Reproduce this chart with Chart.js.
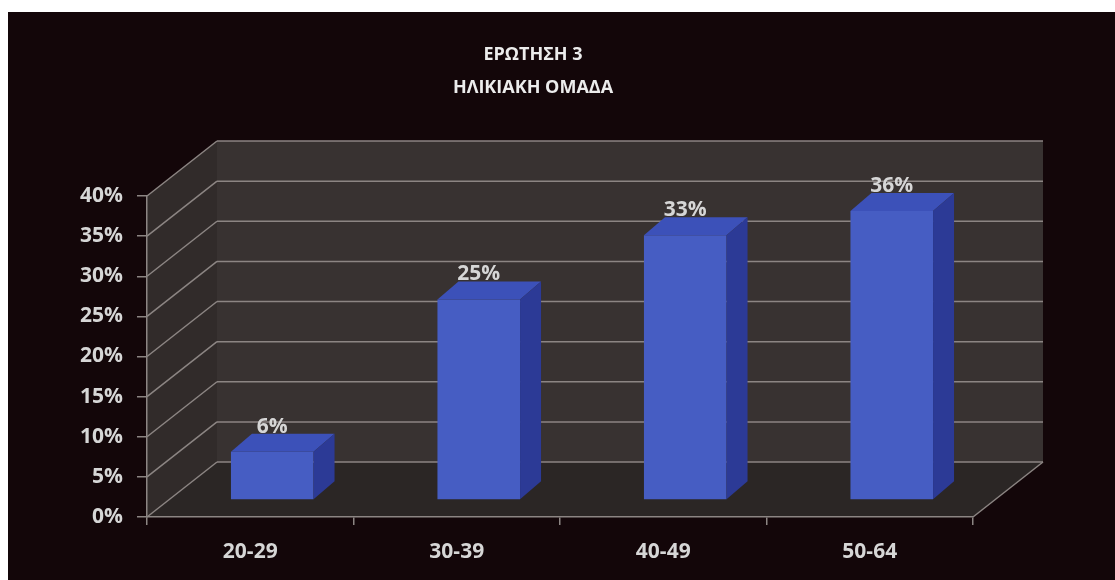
<!DOCTYPE html>
<html>
<head>
<meta charset="utf-8">
<script src="https://cdn.jsdelivr.net/npm/chart.js@4.4.0/dist/chart.umd.min.js"></script>
<style>
  html, body { margin: 0; padding: 0; background: #fff; }
  #wrap { width: 1115px; height: 580px; position: relative; }
</style>
</head>
<body>
<div id="wrap"><canvas id="myChart"></canvas></div>
<script>
const ageGroups = ['20-29', '30-39', '40-49', '50-64'];
const percentValues = [6, 25, 33, 36];
const titleLines = ['ΕΡΩΤΗΣΗ 3', 'ΗΛΙΚΙΑΚΗ ΟΜΑΔΑ'];
const yMax = 40;
const yStep = 5;

// fake 3d: how far the back wall sits behind the axes, and where the bars sit
const depth = { x: 70, y: -55 };
const barShift = { x: 22, y: -17 };
const barDepth = { x: 21, y: -18 };

const gridColor = '#8c8583';
const textColor = '#d6d6d6';
const fontFamily = "'Open Sans', 'DejaVu Sans', sans-serif";

const poly = (ctx, pts, fill) => {
    ctx.beginPath();
    ctx.moveTo(pts[0][0], pts[0][1]);
    for (let i = 1; i < pts.length; i++) ctx.lineTo(pts[i][0], pts[i][1]);
    ctx.closePath();
    ctx.fillStyle = fill;
    ctx.fill();
};

const line = (ctx, x1, y1, x2, y2) => {
    ctx.beginPath();
    ctx.moveTo(x1, y1);
    ctx.lineTo(x2, y2);
    ctx.stroke();
};

const roomPlugin = {
    id: 'room',
    beforeDraw(chart) {
        const ctx = chart.ctx;
        const { left, right, top, bottom } = chart.chartArea;
        const yScale = chart.scales.y;
        ctx.save();
        ctx.fillStyle = '#130609';
        ctx.fillRect(8, 12, chart.width - 8, chart.height - 12);

        // title (centred on the whole picture, not on the plot)
        ctx.font = 'bold 18px ' + fontFamily;
        ctx.fillStyle = '#ececec';
        ctx.textAlign = 'center';
        ctx.textBaseline = 'middle';
        titleLines.forEach((t, i) => ctx.fillText(t, 533, 55 + i * 33));

        // back wall, side wall, floor
        poly(ctx, [[left + depth.x, top + depth.y], [right + depth.x, top + depth.y],
                   [right + depth.x, bottom + depth.y], [left + depth.x, bottom + depth.y]], '#383231');
        poly(ctx, [[left, top], [left + depth.x, top + depth.y],
                   [left + depth.x, bottom + depth.y], [left, bottom]], '#312b2a');
        poly(ctx, [[left, bottom], [right, bottom],
                   [right + depth.x, bottom + depth.y], [left + depth.x, bottom + depth.y]], '#2b2625');

        ctx.strokeStyle = gridColor;
        ctx.lineWidth = 1.5;
        for (let v = 0; v <= yMax; v += yStep) {
            const yy = yScale.getPixelForValue(v);
            line(ctx, left, yy, left + depth.x, yy + depth.y);
            line(ctx, left + depth.x, yy + depth.y, right + depth.x, yy + depth.y);
        }
        line(ctx, right, bottom, right + depth.x, bottom + depth.y);
        ctx.restore();
    },
    beforeDatasetsDraw(chart) {
        chart.ctx.save();
        chart.ctx.translate(barShift.x, barShift.y);
    },
    afterDatasetsDraw(chart) {
        const ctx = chart.ctx;
        const bars = chart.getDatasetMeta(0).data;
        bars.forEach(bar => {
            const { x, y, base, width } = bar.getProps(['x', 'y', 'base', 'width'], true);
            const xl = x - width / 2;
            const xr = x + width / 2;
            poly(ctx, [[xl, y], [xr, y], [xr + barDepth.x, y + barDepth.y], [xl + barDepth.x, y + barDepth.y]], '#3c51b9');
            poly(ctx, [[xr, y], [xr + barDepth.x, y + barDepth.y], [xr + barDepth.x, base + barDepth.y], [xr, base]], '#2c3a96');
        });
        ctx.restore();

        // value labels
        ctx.save();
        ctx.font = 'bold 21px ' + fontFamily;
        ctx.fillStyle = textColor;
        ctx.textAlign = 'center';
        ctx.textBaseline = 'middle';
        bars.forEach((bar, i) => {
            const { x, y } = bar.getProps(['x', 'y'], true);
            ctx.fillText(percentValues[i] + '%', x + barShift.x, y + barShift.y - 25);
        });
        ctx.restore();
    }
};

const ctx = document.getElementById('myChart').getContext('2d');

const myChart = new Chart(ctx, {
    type: 'bar',
    data: {
        labels: ageGroups,
        datasets: [{
            data: percentValues,
            backgroundColor: '#465dc3',
            borderWidth: 0,
            categoryPercentage: 1,
            barPercentage: 0.4,
            clip: false
        }]
    },
    options: {
        responsive: true,
        maintainAspectRatio: false,
        animation: false,
        layout: { padding: { left: 0, right: 142, top: 196, bottom: 0 } },
        plugins: {
            legend: { display: false },
            tooltip: { enabled: false },
            title: { display: false }
        },
        scales: {
            x: {
                afterFit: (scale) => { scale.height = 63; },
                grid: { display: true, drawOnChartArea: false, drawTicks: true, tickLength: 8, color: gridColor, lineWidth: 1.5, offset: true },
                border: { display: true, color: gridColor, width: 1.5 },
                ticks: { color: textColor, padding: 14, font: { family: fontFamily, weight: 'bold', size: 21 } }
            },
            y: {
                min: 0,
                max: yMax,
                afterFit: (scale) => { scale.width = 147; },
                grid: { drawOnChartArea: false, drawTicks: true, tickLength: 10, color: gridColor, lineWidth: 1.5 },
                border: { display: true, color: gridColor, width: 1.5 },
                ticks: {
                    stepSize: yStep,
                    color: textColor,
                    padding: 14,
                    font: { family: fontFamily, weight: 'bold', size: 21 },
                    callback: (v) => v + '%'
                }
            }
        }
    },
    plugins: [roomPlugin]
});
</script>
</body>
</html>
